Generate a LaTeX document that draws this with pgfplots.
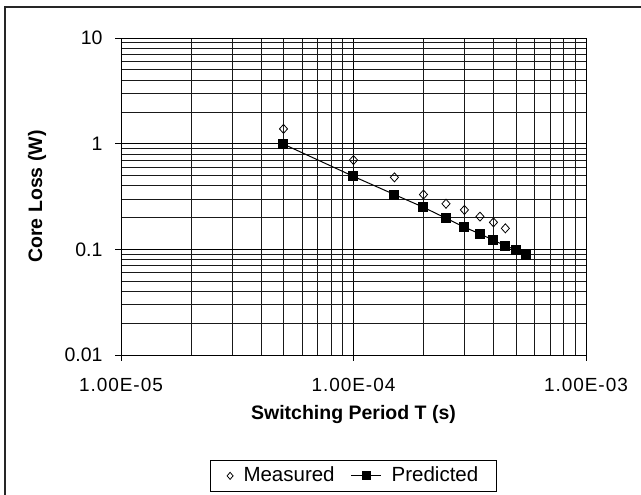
\documentclass[border=0pt]{standalone}
\usepackage{pgfplots}
\pgfplotsset{compat=1.18}
\usepackage{fontspec}
\setmainfont{Liberation Sans}
\newfontfamily\spacedfont[LetterSpace=5]{Liberation Sans}
\begin{document}
\fontsize{19}{22}\selectfont
\begin{tikzpicture}
\useasboundingbox (-121pt,-140pt) rectangle (520pt,355pt);
\draw[line width=1.3pt,black!85] (-116pt,-160pt) -- (-116pt,348pt) -- (540pt,348pt);
\begin{axis}[
  at={(0pt,0pt)}, anchor=south west,
  scale only axis, width=465pt, height=317pt,
  xmode=log, ymode=log, log basis x=10, log basis y=10,
  xmin=1e-5, xmax=1e-3, ymin=0.01, ymax=10,
  xtick={1e-5,1e-4,1e-3}, xticklabels={1.00E-05,1.00E-04,1.00E-03},
  ytick={0.01,0.1,1,10}, yticklabels={0.01,0.1,1,10},
  minor xtick={2e-5,3e-5,4e-5,5e-5,6e-5,7e-5,8e-5,9e-5,2e-4,3e-4,4e-4,5e-4,6e-4,7e-4,8e-4,9e-4},
  minor ytick={0.02,0.03,0.04,0.05,0.06,0.07,0.08,0.09,0.2,0.3,0.4,0.5,0.6,0.7,0.8,0.9,2,3,4,5,6,7,8,9},
  grid=both,
  major grid style={black, line width=0.8pt},
  minor grid style={black!90, line width=0.7pt},
  axis line style={black, line width=0.8pt},
  tick align=outside, major tick length=6pt, minor tick length=0pt,
  xtick pos=bottom, ytick pos=left,
  tick style={black, line width=0.8pt},
  xticklabel style={font=\spacedfont\fontsize{19}{22}\selectfont, yshift=-11pt},
  yticklabel style={font=\fontsize{19.5}{22}\selectfont, xshift=-6pt},
  xlabel={\bfseries Switching Period T (s)},
  ylabel={\bfseries Core Loss (W)},
  xlabel style={at={(axis description cs:0.5,-0.187)}, anchor=center, font=\fontsize{19.5}{22}\selectfont},
  ylabel style={at={(axis description cs:-0.1806,0.5)}, anchor=center, font=\fontsize{19.5}{22}\selectfont},
  legend columns=2,
  legend style={at={(axis description cs:0.5,-0.33)}, anchor=north,
    draw=black, line width=0.8pt, font=\fontsize{20.5}{23}\selectfont,
    inner xsep=16pt, inner ysep=5pt,
    /tikz/every odd column/.append style={column sep=8pt},
    /tikz/every even column/.append style={column sep=14pt}},
  legend cell align=left,
]
\addplot[only marks, mark=diamond, mark size=4.5pt, mark options={black, fill=white, line width=0.8pt, xscale=1.2},
  legend image code/.code={\draw[black, fill=white, line width=0.8pt] (0pt,3.5pt) -- (3pt,0pt) -- (0pt,-3.5pt) -- (-3pt,0pt) -- cycle;}]
coordinates {
(5e-5,1.38) (1e-4,0.70) (1.5e-4,0.48) (2e-4,0.33) (2.5e-4,0.27)
(3e-4,0.236) (3.5e-4,0.204) (4e-4,0.18) (4.5e-4,0.158)
};
\addlegendentry{Measured}
\addplot[black, line width=1pt, mark=square*, mark size=4.5pt, mark options={black},
  legend image code/.code={\draw[black,line width=1pt] (0pt,0pt) -- (30pt,0pt); \fill[black] (11pt,-4pt) rectangle (19pt,4pt);}]
coordinates {
(5e-5,0.99) (1e-4,0.49) (1.5e-4,0.33) (2e-4,0.25) (2.5e-4,0.197)
(3e-4,0.162) (3.5e-4,0.14) (4e-4,0.122) (4.5e-4,0.108) (5e-4,0.099) (5.5e-4,0.089)
};
\addlegendentry{Predicted}
\end{axis}
\end{tikzpicture}
\end{document}
